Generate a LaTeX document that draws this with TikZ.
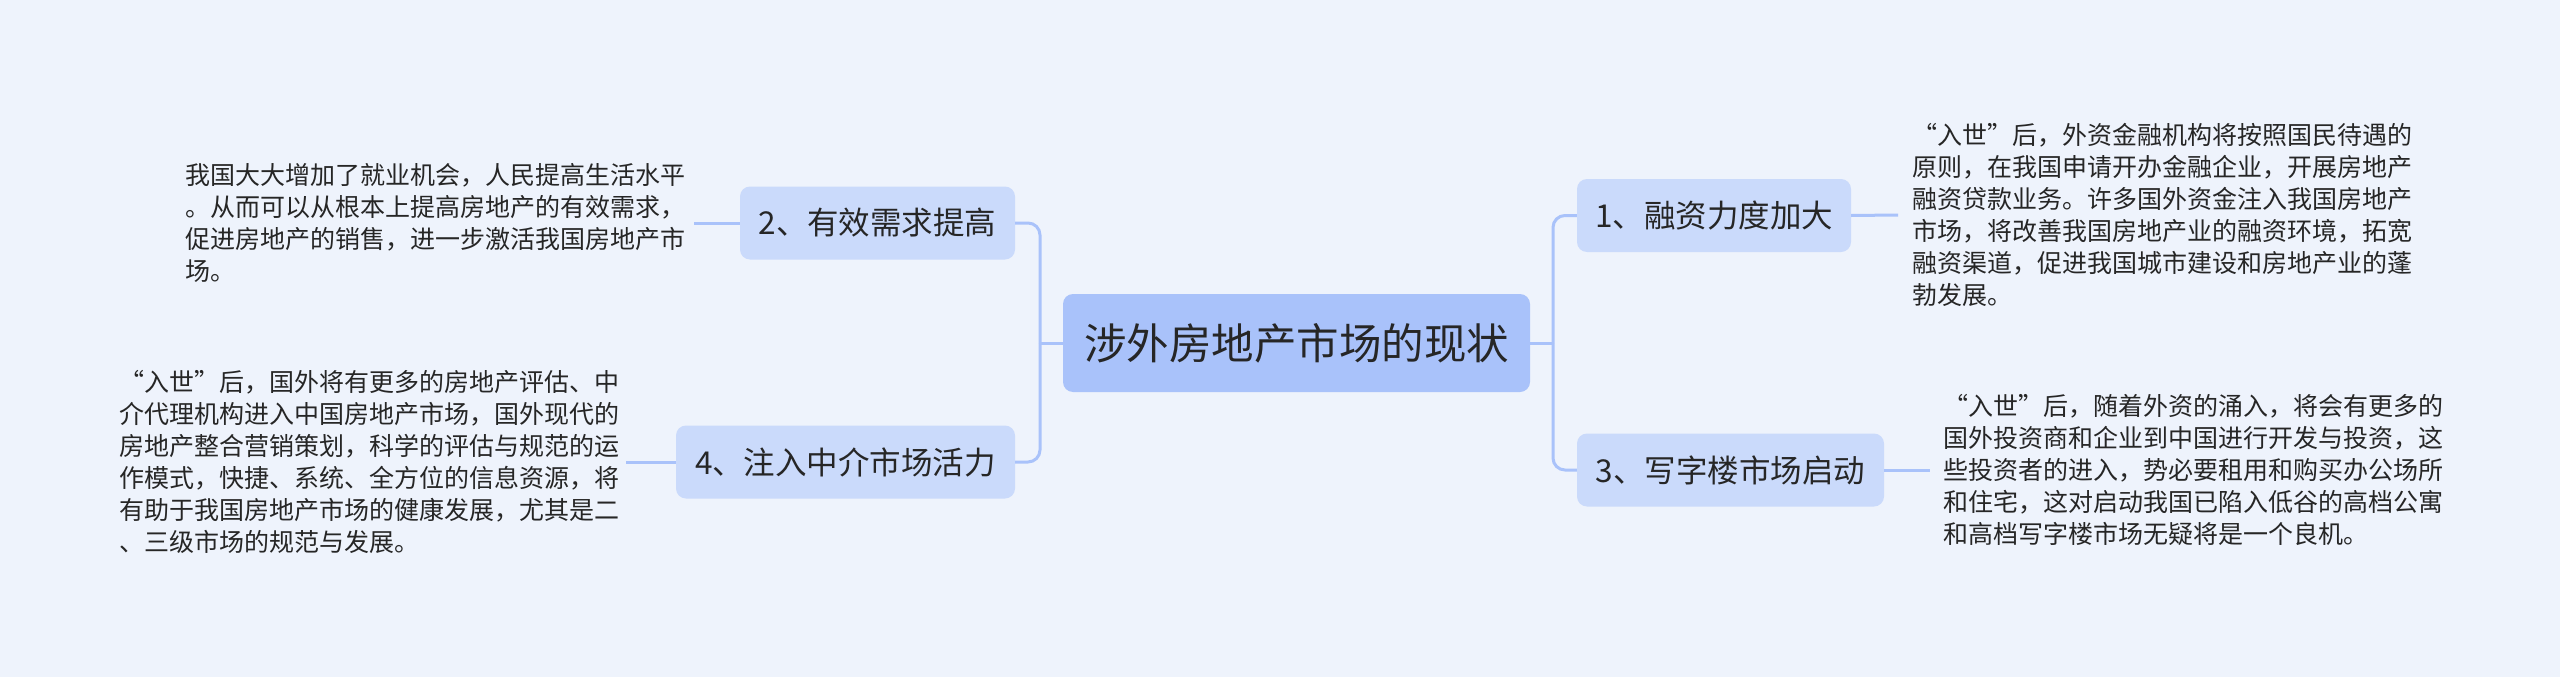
\documentclass[tikz,border=0pt]{standalone}
\usepackage{fontspec}
\setmainfont{Noto Sans CJK SC}
\definecolor{bgc}{HTML}{EEF3FC}
\definecolor{rootc}{HTML}{A9C2FA}
\definecolor{subc}{HTML}{CADAFB}
\definecolor{linec}{HTML}{A9C2FA}
\definecolor{txtc}{HTML}{262626}
\begin{document}
\begin{tikzpicture}[x=1pt,y=-1pt,
  rootbox/.style={fill=rootc, rounded corners=10pt, inner sep=0pt, minimum width=467pt, minimum height=98pt, font=\fontsize{42.5}{50}\selectfont, text=txtc},
  subbox/.style={fill=subc, rounded corners=10pt, inner sep=0pt, minimum height=73pt, font=\fontsize{31.5}{38}\selectfont, text=txtc},
  leaftext/.style={inner sep=0pt, align=left, font=\fontsize{25}{32}\selectfont, text=txtc},
  link/.style={draw=linec, line width=3pt},
  ]
\fill[bgc] (0,0) rectangle (2560,677);
\useasboundingbox (0,0) rectangle (2560,677);

\node[rootbox] (root) at (1296.5,343) {涉外房地产市场的现状};
\node[subbox, minimum width=274pt] (n1) at (1714,215.5) {1、融资力度加大};
\node[subbox, minimum width=307pt] (n3) at (1730.5,470) {3、写字楼市场启动};
\node[subbox, minimum width=275pt] (n2) at (877.5,223) {2、有效需求提高};
\node[subbox, minimum width=339pt] (n4) at (845.5,462) {4、注入中介市场活力};

\node[leaftext, anchor=west] (t1) at (1912,215) {“入世”后，外资金融机构将按照国民待遇的\\原则，在我国申请开办金融企业，开展房地产\\融资贷款业务。许多国外资金注入我国房地产\\市场，将改善我国房地产业的融资环境，拓宽\\融资渠道，促进我国城市建设和房地产业的蓬\\勃发展。};
\node[leaftext, anchor=west] (t3) at (1943,470) {“入世”后，随着外资的涌入，将会有更多的\\国外投资商和企业到中国进行开发与投资，这\\些投资者的进入，势必要租用和购买办公场所\\和住宅，这对启动我国已陷入低谷的高档公寓\\和高档写字楼市场无疑将是一个良机。};
\node[leaftext, anchor=east] (t2) at (686,223) {我国大大增加了就业机会，人民提高生活水平\\。从而可以从根本上提高房地产的有效需求，\\促进房地产的销售，进一步激活我国房地产市\\场。};
\node[leaftext, anchor=east] (t4) at (620,462) {“入世”后，国外将有更多的房地产评估、中\\介代理机构进入中国房地产市场，国外现代的\\房地产整合营销策划，科学的评估与规范的运\\作模式，快捷、系统、全方位的信息资源，将\\有助于我国房地产市场的健康发展，尤其是二\\、三级市场的规范与发展。};

\coordinate (jr) at (1553,343);
\coordinate (jl) at (1040,343);
\draw[link] (root.east) -- (jr);
\draw[link, rounded corners=12pt] (jr) |- (n1.west);
\draw[link, rounded corners=12pt] (jr) |- (n3.west);
\draw[link] (root.west) -- (jl);
\draw[link, rounded corners=12pt] (jl) |- (n2.east);
\draw[link, rounded corners=12pt] (jl) |- (n4.east);
\draw[link] (n1.east) -- ([xshift=-14pt]t1.west);
\draw[link] (n3.east) -- ([xshift=-13pt]t3.west);
\draw[link] (n2.west) -- ([xshift=8pt]t2.east);
\draw[link] (n4.west) -- ([xshift=6pt]t4.east);
\end{tikzpicture}
\end{document}
